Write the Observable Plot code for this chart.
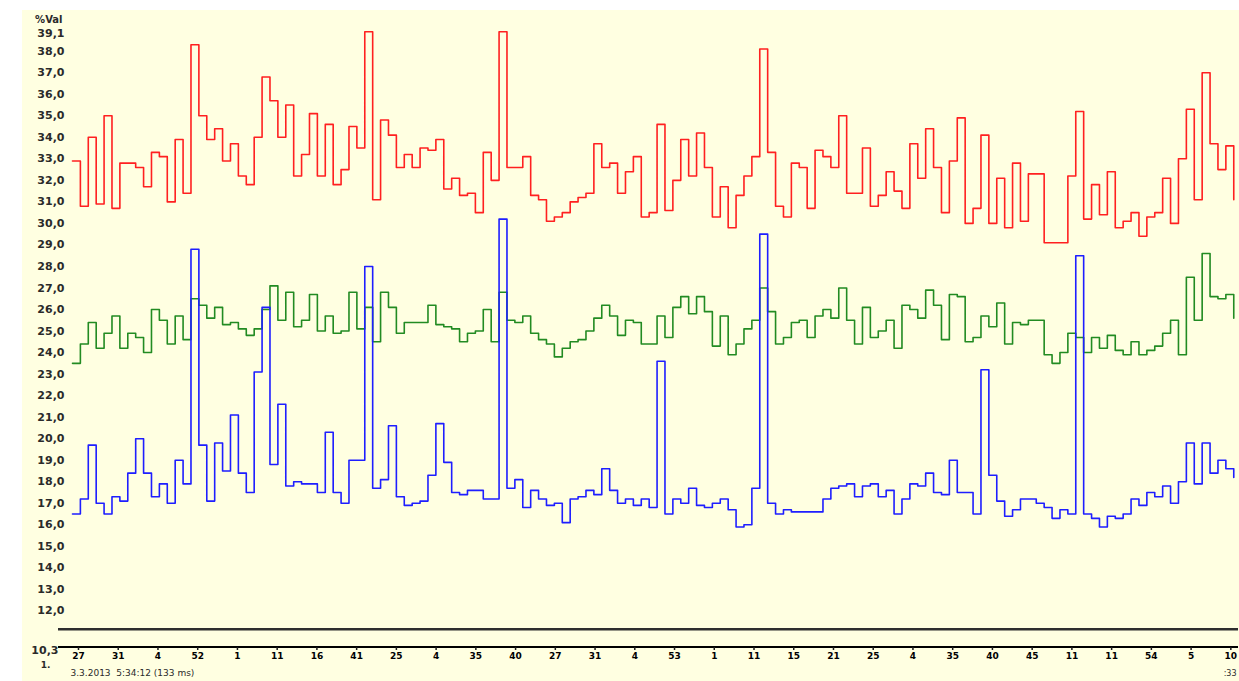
<!DOCTYPE html>
<html><head><meta charset="utf-8">
<script src="https://cdn.jsdelivr.net/npm/d3@7"></script>
<script src="https://cdn.jsdelivr.net/npm/@observablehq/plot@0.6"></script>
<style>
html,body{margin:0;padding:0;background:#ffffff;width:1239px;height:681px;overflow:hidden;}
#panel{position:absolute;left:22px;top:10px;right:0;bottom:0;background:#ffffe1;}
#chart{position:absolute;left:0;top:0;}
</style></head><body><div id="panel"></div><div id="chart"></div>
<script>
// ---- data (one value per sample) ----
const redValues = [32.9,30.8,34.0,30.9,35.0,30.7,32.8,32.8,32.6,31.7,
 33.3,33.1,31.0,33.9,31.4,38.3,35.0,33.9,34.4,32.9,
 33.7,32.2,31.8,34.0,36.8,35.7,34.0,35.5,32.2,33.2,
 35.1,32.2,34.6,31.8,32.5,34.5,33.5,38.9,31.1,34.8,
 34.1,32.6,33.2,32.6,33.5,33.4,33.9,31.6,32.1,31.3,
 31.4,30.5,33.3,32.0,38.9,32.6,32.6,33.1,31.3,31.1,
 30.1,30.3,30.5,31.0,31.2,31.4,33.7,32.6,32.8,31.4,
 32.4,33.1,30.3,30.5,34.6,30.6,32.0,33.9,32.2,34.2,
 32.6,30.3,31.7,29.8,31.3,32.2,33.1,38.1,33.3,30.8,
 30.3,32.8,32.6,30.7,33.4,33.1,32.6,35.0,31.4,31.4,
 33.5,30.8,31.3,32.4,31.5,30.7,33.7,32.1,34.4,32.6,
 30.5,32.9,34.9,30.0,30.7,34.1,30.0,32.1,29.8,32.8,
 30.1,32.3,32.3,29.1,29.1,29.1,32.2,35.2,30.2,31.8,
 30.4,32.4,29.8,30.1,30.5,29.4,30.3,30.5,32.1,30.0,
 33.0,35.3,31.1,37.0,33.7,32.5,33.6,31.1];
const greenValues = [23.5,24.4,25.4,24.2,24.9,25.7,24.2,24.9,24.7,24.0,
 26.0,25.5,24.4,25.7,24.6,26.5,26.2,25.6,26.1,25.3,
 25.4,25.1,24.8,25.1,26.0,27.1,25.5,26.8,25.2,25.5,
 26.7,25.0,25.7,24.9,25.0,26.8,25.1,26.1,24.5,26.8,
 26.1,24.9,25.4,25.4,25.4,26.2,25.3,25.2,25.1,24.5,
 24.9,25.0,26.0,24.5,26.8,25.5,25.4,25.7,24.9,24.6,
 24.4,23.8,24.2,24.5,24.6,25.0,25.6,26.2,25.7,24.8,
 25.5,25.4,24.4,24.4,25.7,24.7,26.1,26.6,25.8,26.6,
 25.9,24.3,25.7,23.9,24.4,25.1,25.5,27.0,25.9,24.4,
 24.7,25.4,25.5,24.7,25.7,26.0,25.6,27.0,25.5,24.4,
 26.1,24.7,25.0,25.5,24.2,26.2,26.0,25.6,26.9,26.2,
 24.6,26.7,26.6,24.5,24.7,25.7,25.2,26.3,24.4,25.4,
 25.3,25.5,25.5,23.9,23.5,24.0,24.9,24.7,24.0,24.7,
 24.2,24.8,24.1,23.9,24.5,23.9,24.1,24.3,24.9,25.5,
 23.9,27.5,25.5,28.6,26.6,26.5,26.7,25.6];
const blueValues = [16.5,17.2,19.7,17.0,16.5,17.3,17.1,18.4,20.0,18.4,
 17.3,17.9,17.0,19.0,17.9,28.8,19.7,17.1,19.8,18.5,
 21.1,18.4,17.5,23.1,26.1,18.8,21.6,17.8,18.0,17.9,
 17.9,17.5,20.3,17.5,17.0,19.0,19.0,28.0,17.7,18.1,
 20.6,17.3,16.9,17.0,17.1,18.3,20.7,18.9,17.5,17.4,
 17.6,17.6,17.2,17.2,30.2,17.7,18.1,16.8,17.6,17.2,
 16.9,17.0,16.1,17.2,17.3,17.6,17.4,18.6,17.6,17.0,
 17.2,16.9,17.2,16.8,23.6,16.5,17.2,17.0,17.7,16.9,
 16.8,17.0,17.2,16.7,15.9,16.0,17.7,29.5,17.0,16.5,
 16.7,16.6,16.6,16.6,16.6,17.2,17.7,17.8,17.9,17.3,
 17.8,17.9,17.3,17.6,16.5,17.2,17.9,17.8,18.4,17.5,
 17.4,19.0,17.5,17.5,16.5,23.2,18.3,17.1,16.4,16.7,
 17.2,17.2,17.0,16.8,16.3,16.7,16.5,28.5,16.5,16.3,
 15.9,16.4,16.3,16.5,17.2,16.9,17.5,17.3,17.8,17.0,
 18.0,19.8,17.9,19.8,18.4,19.0,18.6,18.2];
const baseLineValue = 11.15;
const yMin = 10.3, yMax = 39.1;
const yTickValues = [38,37,36,35,34,33,32,31,30,29,28,27,26,25,24,23,22,21,20,19,18,17,16,15,14,13,12];
const xTickLabels = ["27","31","4","52","1","11","16","41","25","4","35","40","27","31","4","53","1","11","15","21","25","4","35","40","45","11","11","54","5","10"];
const xFirstTick = 0.76, xTickStep = 5.03;
const unitLabel = "%Val";
const cornerLabel = "1.";
const footerLeft = "3.3.2013  5:34:12 (133 ms)";
const footerRight = ":33";

// ---- build ----
const fmt = v => d3.format(".1f")(v).replace(".", ",");
const rows = (vals) => vals.map((v, i) => ({i, v}));
const xTicks = xTickLabels.map((_, n) => xFirstTick + n * xTickStep);
const xLabelOf = new Map(xTicks.map((t, n) => [t, xTickLabels[n]]));
const font = "DejaVu Sans";
const txt = {fontFamily: font, fontWeight: "bold", fill: "#2a2a2a"};

const chart = Plot.plot({
  width: 1239, height: 681,
  marginLeft: 58, marginRight: 1, marginTop: 27, marginBottom: 34,
  style: {background: "transparent", overflow: "visible"},
  x: {domain: [-1.77, 147.6], label: null},
  y: {domain: [yMin, yMax], label: null},
  marks: [
    Plot.ruleY([baseLineValue], {stroke: "#2e2e2e", strokeWidth: 2.6}),
    Plot.ruleY([yMin], {stroke: "#000000", strokeWidth: 2, dy: -0.5}),
    Plot.axisX(xTicks, {anchor: "bottom", label: null, tickSize: 3, tickPadding: 2, stroke: "#1a1a1a", strokeWidth: 1.5,
      tickFormat: d => xLabelOf.get(d), fontSize: 9, fontFamily: font, fontWeight: "bold", textStroke: "none"}),
    Plot.axisY(yTickValues, {anchor: "left", label: null, tickSize: 0, tickPadding: 0, dx: 6,
      tickFormat: fmt, fontSize: 11, ...txt}),
    Plot.axisY([yMax], {anchor: "left", label: null, tickSize: 0, tickPadding: 0, dx: 6, dy: 6,
      tickFormat: fmt, fontSize: 11, ...txt}),
    Plot.axisY([yMin], {anchor: "left", label: null, tickSize: 0, tickPadding: 0, dx: 0, dy: 3,
      tickFormat: fmt, fontSize: 11, ...txt}),
    Plot.text([unitLabel], {frameAnchor: "top-left", dx: 4, dy: -12, textAnchor: "end", fontSize: 10, ...txt}),
    Plot.text([cornerLabel], {frameAnchor: "bottom-left", dx: -8, dy: 20, textAnchor: "end", fontSize: 9, ...txt}),
    Plot.text([footerLeft], {frameAnchor: "bottom-left", dx: 12, dy: 28, textAnchor: "start", fontSize: 9, fontFamily: font, fill: "#2a2a2a"}),
    Plot.text([footerRight], {frameAnchor: "bottom-right", dx: -2, dy: 28, textAnchor: "end", fontSize: 8, fontFamily: font, fill: "#2a2a2a"}),
    Plot.line(rows(redValues), {x: "i", y: "v", curve: "step-after", stroke: "#ff2020", strokeWidth: 1.6}),
    Plot.line(rows(greenValues), {x: "i", y: "v", curve: "step-after", stroke: "#228b22", strokeWidth: 1.6}),
    Plot.line(rows(blueValues), {x: "i", y: "v", curve: "step-after", stroke: "#1e1eff", strokeWidth: 1.6})
  ]
});
document.getElementById("chart").appendChild(chart);
</script>
</body></html>
